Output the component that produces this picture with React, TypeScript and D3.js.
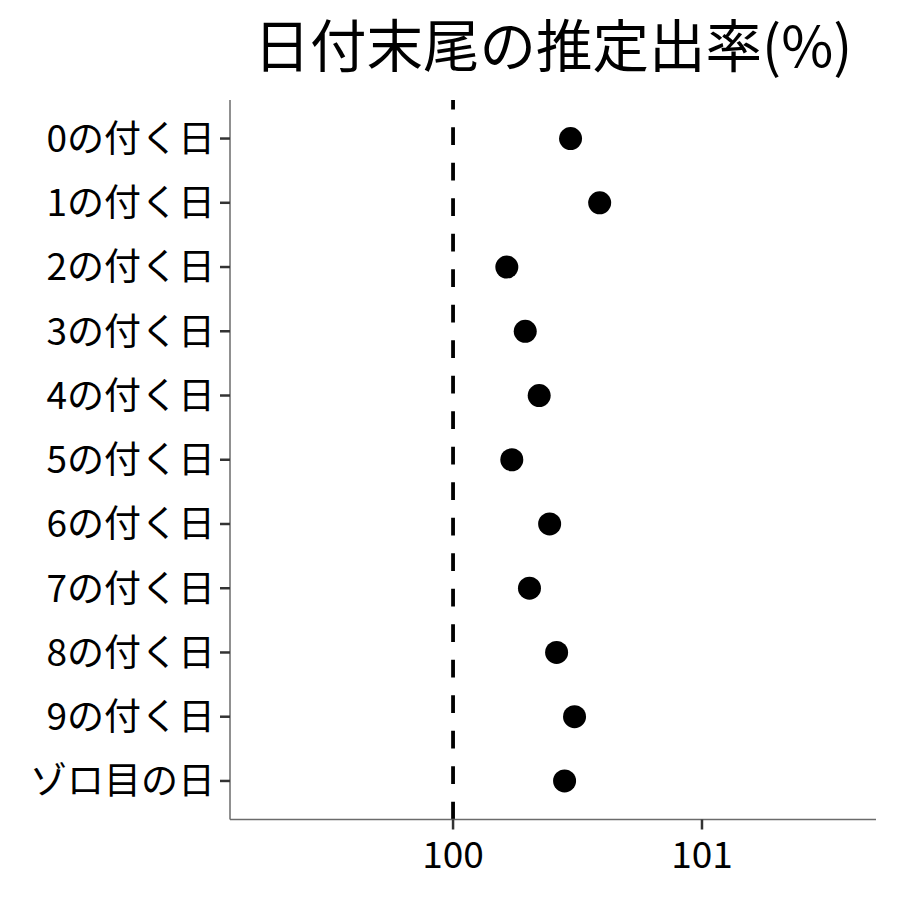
import React from "react";
import * as d3 from "d3";

const categories: string[] = [
  "0の付く日", "1の付く日", "2の付く日", "3の付く日", "4の付く日",
  "5の付く日", "6の付く日", "7の付く日", "8の付く日", "9の付く日", "ゾロ目の日",
];
const rates: number[] = [
  100.472, 100.589, 100.216, 100.29, 100.346, 100.236, 100.388, 100.307, 100.416, 100.488, 100.448,
];
const xTicks: number[] = [100, 101];
const refValue = 100;
const xDomain: [number, number] = [99.104, 101.699];
const title = "日付末尾の推定出率(%)";

const W = 900, H = 900;
const M = { left: 230, right: 876, top: 100, bottom: 819.5 };
const FONT = "'Noto Sans CJK JP', 'Noto Sans', sans-serif";

export default function App() {
  const x = d3.scaleLinear().domain(xDomain).range([M.left, M.right]);
  const y = d3.scalePoint<string>().domain(categories).range([M.top, M.bottom]).padding(0.6);

  return (
    <svg width={W} height={H} style={{ position: "absolute", left: 0, top: 0, background: "#fff" }}>
      <rect x={0} y={0} width={W} height={H} fill="#fff" />
      <text x={(M.left + M.right) / 2} y={67} textAnchor="middle" fontFamily={FONT} fontSize={56.5} fill="#000">
        {title}
      </text>
      {/* reference line drawn bottom-up */}
      <line x1={x(refValue)} x2={x(refValue)} y1={M.bottom} y2={M.top} stroke="#000" strokeWidth={3.8} strokeDasharray="17.75 17.75" />
      {/* axes */}
      <line x1={M.left} x2={M.left} y1={M.top} y2={M.bottom} stroke="#6b6b6b" strokeWidth={1.5} />
      <line x1={M.left} x2={M.right} y1={M.bottom} y2={M.bottom} stroke="#6b6b6b" strokeWidth={1.5} />
      {categories.map((c) => (
        <g key={c}>
          <line x1={M.left - 10} x2={M.left} y1={y(c)!} y2={y(c)!} stroke="#333" strokeWidth={2.5} />
          <text x={M.left - 15} y={y(c)!} dy="0.36em" textAnchor="end" fontFamily={FONT} fontSize={37} fill="#000">
            {c}
          </text>
        </g>
      ))}
      {xTicks.map((t) => (
        <g key={t}>
          <line x1={x(t)} x2={x(t)} y1={M.bottom} y2={M.bottom + 10} stroke="#333" strokeWidth={2.5} />
          <text x={x(t)} y={868} textAnchor="middle" fontFamily={FONT} fontSize={37} fill="#000">
            {t}
          </text>
        </g>
      ))}
      {categories.map((c, i) => (
        <circle key={c} cx={x(rates[i])} cy={y(c)!} r={11.5} fill="#000" />
      ))}
    </svg>
  );
}
